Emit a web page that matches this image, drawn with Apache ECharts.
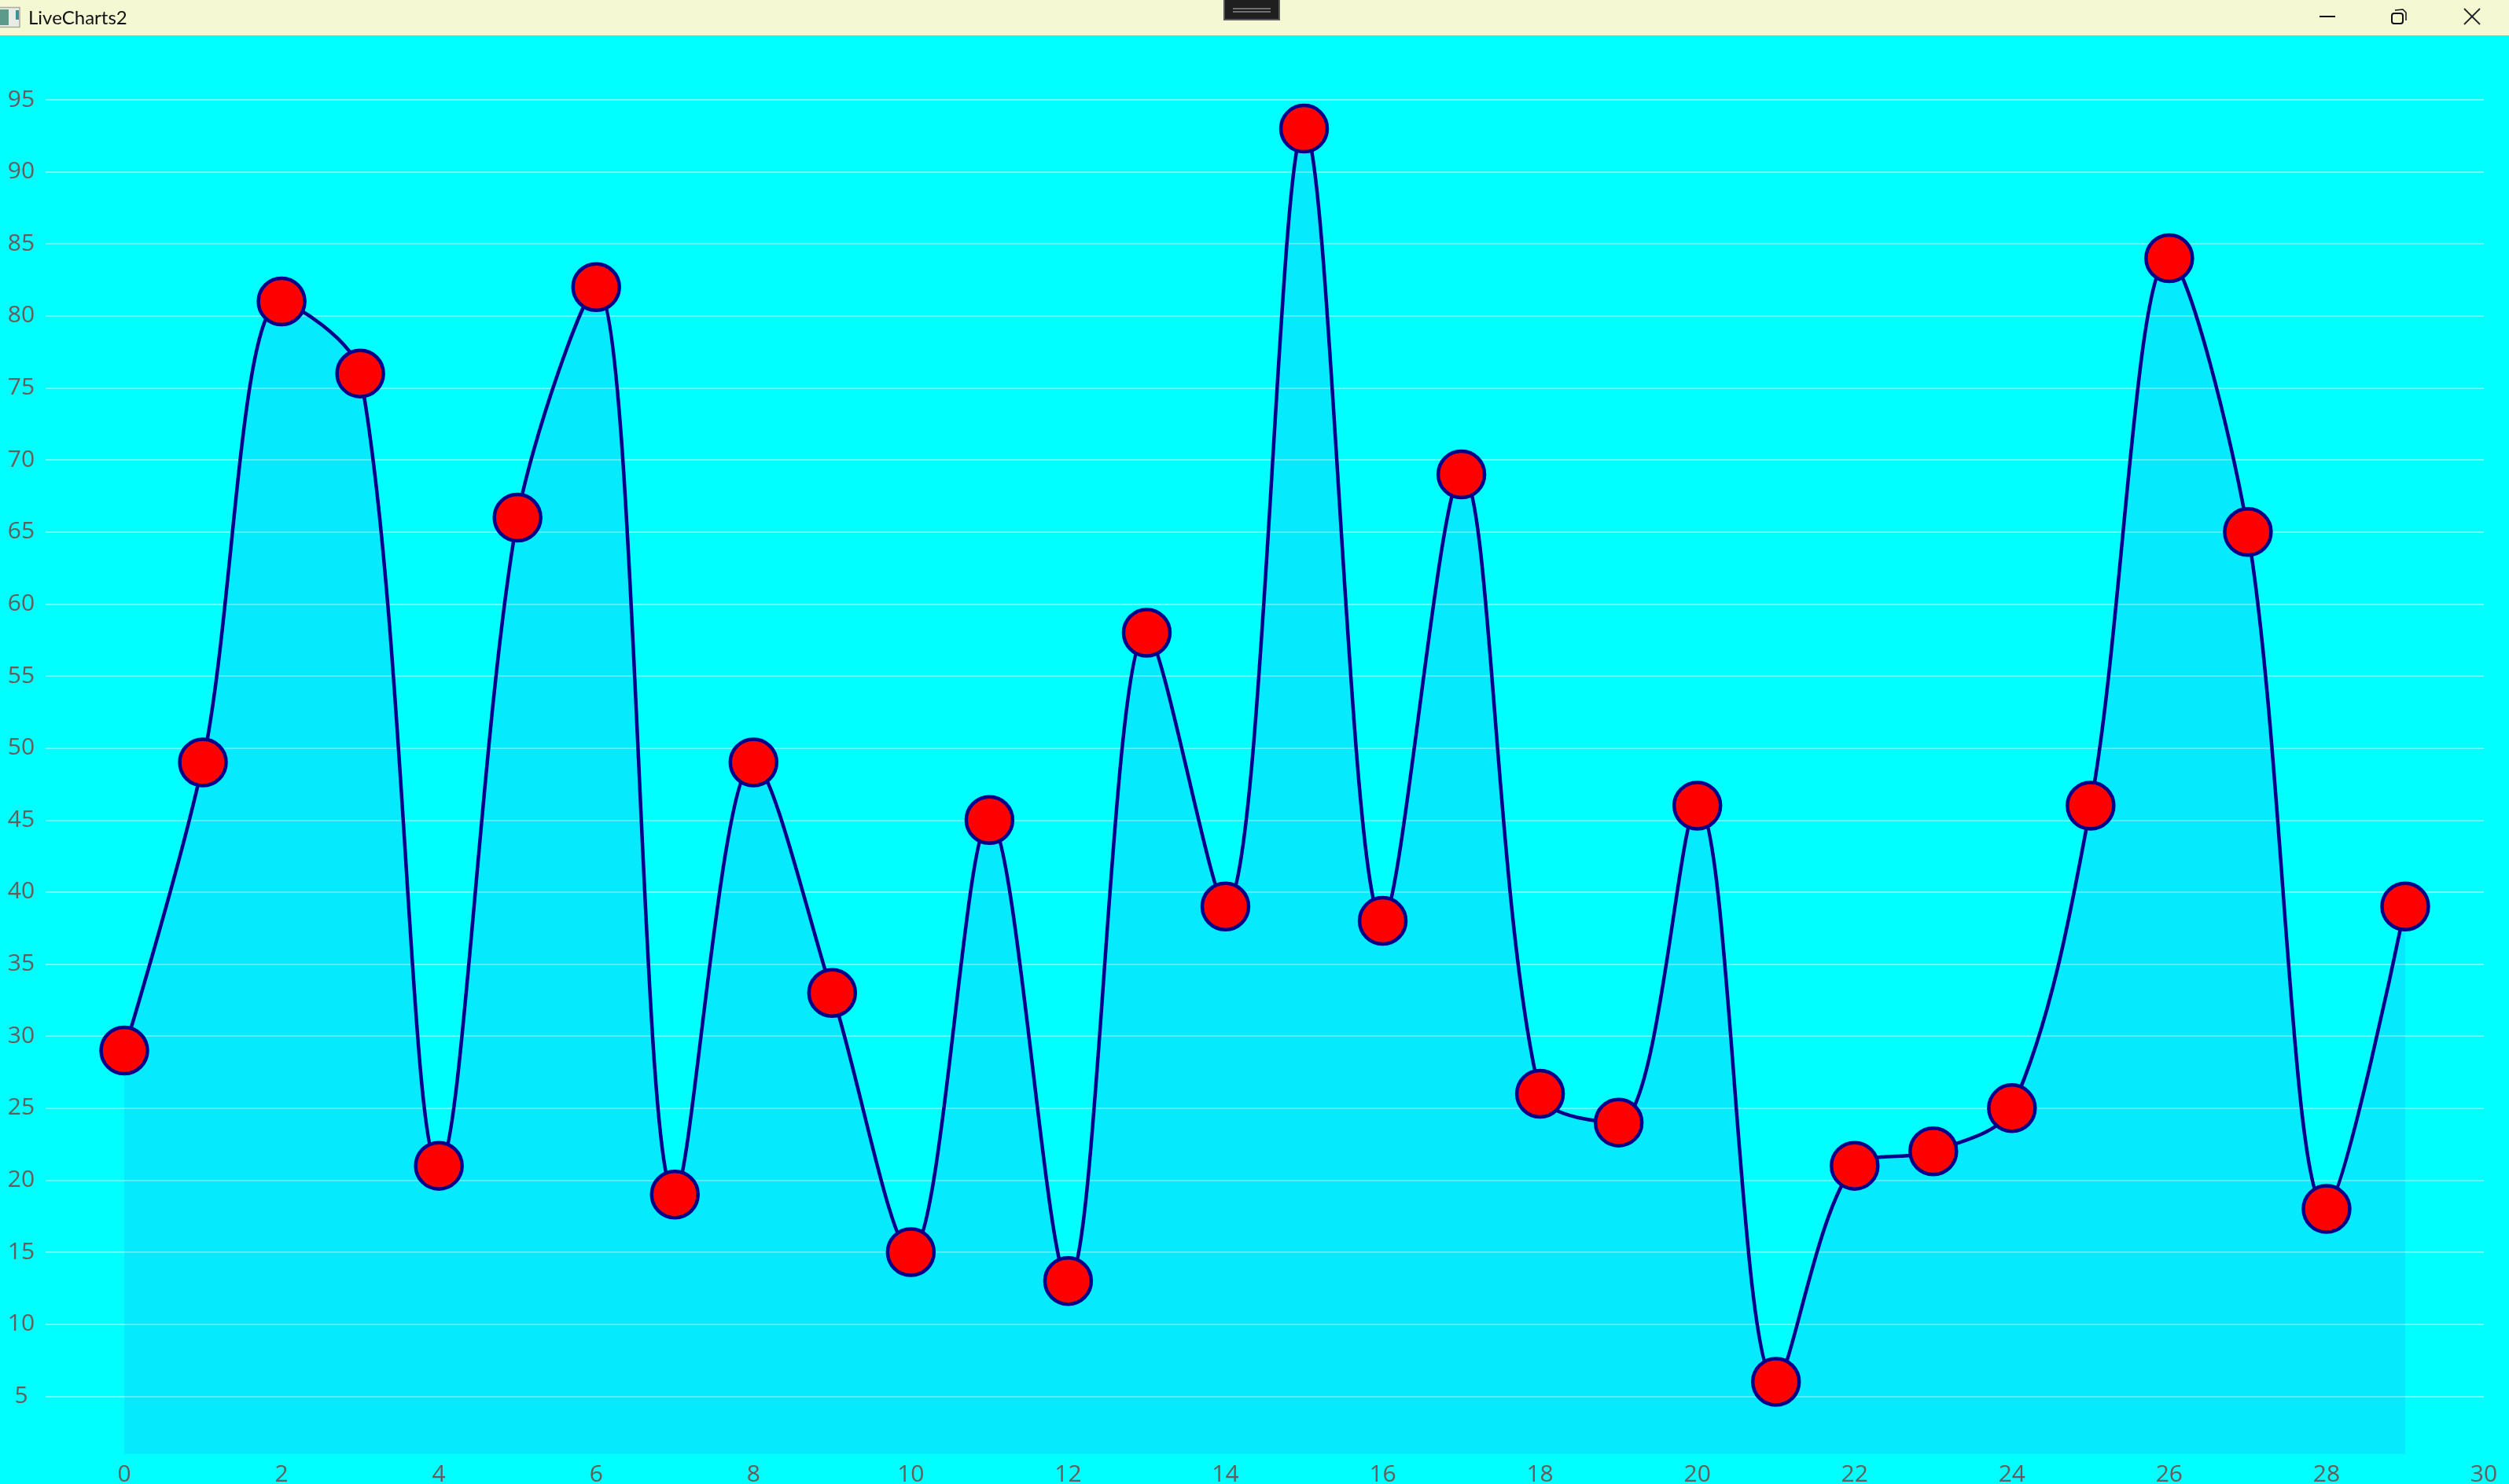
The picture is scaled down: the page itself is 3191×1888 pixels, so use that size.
<!DOCTYPE html>
<html><head><meta charset="utf-8">
<style>html,body{margin:0;padding:0;background:#00ffff;overflow:hidden}#c{width:3191px;height:1888px}</style>
<script src="https://cdn.jsdelivr.net/npm/echarts@6/dist/echarts.min.js"></script>
</head><body><div id="c"></div>
<script>
const windowTitle = 'LiveCharts2';
const xValues = [0,1,2,3,4,5,6,7,8,9,10,11,12,13,14,15,16,17,18,19,20,21,22,23,24,25,26,27,28,29];
const yValues = [29,49,81,76,21,66,82,19,49,33,15,45,13,58,39,93,38,69,26,24,46,6,21,22,25,46,84,65,18,39];
const xTicks = [0,2,4,6,8,10,12,14,16,18,20,22,24,26,28,30];
const labelFont = '"Open Sans", "Noto Sans", sans-serif';
const labelColor = '#665c5c';
const chart = echarts.init(document.getElementById('c'), null, {renderer:'canvas', width:3191, height:1888});
chart.setOption({
  animation:false,
  backgroundColor:'#00ffff',
  grid:{left:58, right:32, top:35.33, bottom:20, containLabel:false, outerBoundsMode:'none'},
  xAxis:{type:'value', min:-1, max:30, splitNumber:31,
    axisLine:{show:false}, axisTick:{show:false}, splitLine:{show:false},
    axisLabel:{customValues:xTicks, fontSize:30, fontFamily:labelFont, color:labelColor, margin:-7, verticalAlign:'top', hideOverlap:false, showMinLabel:true, showMaxLabel:true}},
  yAxis:{type:'value', min:0, max:100, interval:5,
    axisLine:{show:false}, axisTick:{show:false},
    splitLine:{show:true, showMinLine:false, showMaxLine:false, lineStyle:{color:'rgba(255,255,255,0.55)', width:1.5}},
    axisLabel:{fontSize:30, fontFamily:labelFont, color:labelColor, align:'center', margin:31,
      formatter:v => (v===0||v===100)?'':String(v)}},
  series:[{type:'line', data:xValues.map((x,i)=>[x,yValues[i]]), smooth:0.325, clip:false,
    symbol:'circle', symbolSize:59, showSymbol:true, showAllSymbol:true,
    lineStyle:{color:'#00008b', width:4.5},
    itemStyle:{color:'#ff0000', borderColor:'#00008b', borderWidth:4.5, opacity:1},
    areaStyle:{color:'rgba(33,150,243,0.196)', opacity:1, origin:1}}],
  graphic:{elements:[
    {type:'rect', silent:true, z:100, shape:{x:0,y:0,width:3191,height:45}, style:{fill:'#f4f9d4'}},
    {type:'rect', silent:true, z:101, shape:{x:-2,y:9.5,width:27,height:25}, style:{fill:'#e8ece4', stroke:'#a9aca0', lineWidth:1.5}},
    {type:'rect', silent:true, z:102, shape:{x:-2,y:12,width:13,height:20}, style:{fill:'#5c9a8a'}},
    {type:'rect', silent:true, z:102, shape:{x:20,y:13,width:4,height:12}, style:{fill:'#3f8d98'}},
    {type:'text', silent:true, z:102, x:36, y:23, style:{text:windowTitle, fontSize:24, fontFamily:'Lato, "Open Sans", sans-serif', fill:'#111111', verticalAlign:'middle', align:'left'}},
    {type:'rect', silent:true, z:102, shape:{x:1557,y:-2,width:70,height:27}, style:{fill:'#1f1f1f', stroke:'#5a5a5a', lineWidth:2}},
    {type:'rect', silent:true, z:103, shape:{x:1568,y:10,width:48,height:2}, style:{fill:'#6e6e6e'}},
    {type:'rect', silent:true, z:103, shape:{x:1568,y:14,width:48,height:2}, style:{fill:'#6e6e6e'}},
    {type:'line', silent:true, z:102, shape:{x1:2950,y1:21,x2:2970,y2:21}, style:{stroke:'#111', lineWidth:2}},
    {type:'rect', silent:true, z:102, shape:{x:3042,y:17,width:14,height:13,r:3}, style:{fill:'none', stroke:'#111', lineWidth:2}},
    {type:'polyline', silent:true, z:102, shape:{points:[[3046,13],[3056,12],[3060,16],[3060,26]]}, style:{fill:'none', stroke:'#111', lineWidth:1.5}},
    {type:'line', silent:true, z:102, shape:{x1:3134,y1:11,x2:3154,y2:31}, style:{stroke:'#222', lineWidth:1.8}},
    {type:'line', silent:true, z:102, shape:{x1:3154,y1:11,x2:3134,y2:31}, style:{stroke:'#222', lineWidth:1.8}}
  ]}
});
</script></body></html>
